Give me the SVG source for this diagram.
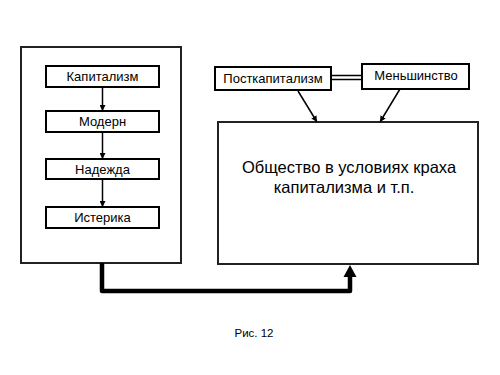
<svg xmlns="http://www.w3.org/2000/svg" width="500" height="375" viewBox="0 0 500 375">
<defs>
<marker id="ah" viewBox="0 0 10 10" refX="10" refY="5" markerWidth="6" markerHeight="6" markerUnits="userSpaceOnUse" orient="auto">
<path d="M0,0 L10,5 L0,10 z" fill="#000"/>
</marker>
</defs>
<style>
.box{fill:#fff;stroke:#000;stroke-width:2}
.big{fill:#fff;stroke:#222;stroke-width:2}
.t{font-family:"Liberation Sans",Arial,sans-serif;font-size:13px;fill:#000;text-anchor:middle}
.tl{font-family:"Liberation Sans",Arial,sans-serif;font-size:16.5px;fill:#000;text-anchor:middle}
.c{fill:none;stroke:#000;stroke-width:1.5}
</style>
<rect width="500" height="375" fill="#fff"/>
<g id="left-frame"><rect class="big" x="21" y="47" width="160" height="216"/></g>
<g id="main"><rect class="big" x="218" y="122" width="260" height="142"/>
<text class="tl" x="349" y="173">Общество в условиях краха</text>
<text class="tl" x="344" y="193">капитализма и т.п.</text></g>
<g id="n1"><rect class="box" x="46" y="66" width="113" height="21"/><text class="t" x="102.5" y="81">Капитализм</text></g>
<g id="n2"><rect class="box" x="46" y="111" width="113" height="21"/><text class="t" x="102.5" y="126">Модерн</text></g>
<g id="n3"><rect class="box" x="46" y="159" width="113" height="20"/><text class="t" x="102.5" y="174">Надежда</text></g>
<g id="n4"><rect class="box" x="46" y="207" width="113" height="21"/><text class="t" x="102.5" y="222">Истерика</text></g>
<g id="post"><rect class="box" x="215" y="67" width="116" height="23"/><text class="t" x="273" y="83">Посткапитализм</text></g>
<g id="min"><rect class="box" x="362" y="64" width="107" height="25"/><text class="t" x="416" y="80">Меньшинство</text></g>
<g id="connectors">
<line class="c" x1="102.5" y1="87" x2="102.5" y2="111" marker-end="url(#ah)"/>
<line class="c" x1="102.5" y1="132" x2="102.5" y2="159" marker-end="url(#ah)"/>
<line class="c" x1="102.5" y1="179" x2="102.5" y2="207" marker-end="url(#ah)"/>
<line class="c" x1="298" y1="91" x2="317" y2="122" marker-end="url(#ah)"/>
<line class="c" x1="400" y1="89" x2="380" y2="122" marker-end="url(#ah)"/>
<line stroke="#000" stroke-width="1.5" x1="331" y1="75.5" x2="362" y2="75.5"/>
<line stroke="#000" stroke-width="1.5" x1="331" y1="79.5" x2="362" y2="79.5"/>
<path d="M102,263 V291 H350 V276" fill="none" stroke="#000" stroke-width="4.5" stroke-linejoin="round"/>
<path d="M343.5,277 L350,265 L356.5,277 z" fill="#000"/>
</g>
<text class="t" x="254" y="337" style="font-size:11.5px">Рис. 12</text>
</svg>
